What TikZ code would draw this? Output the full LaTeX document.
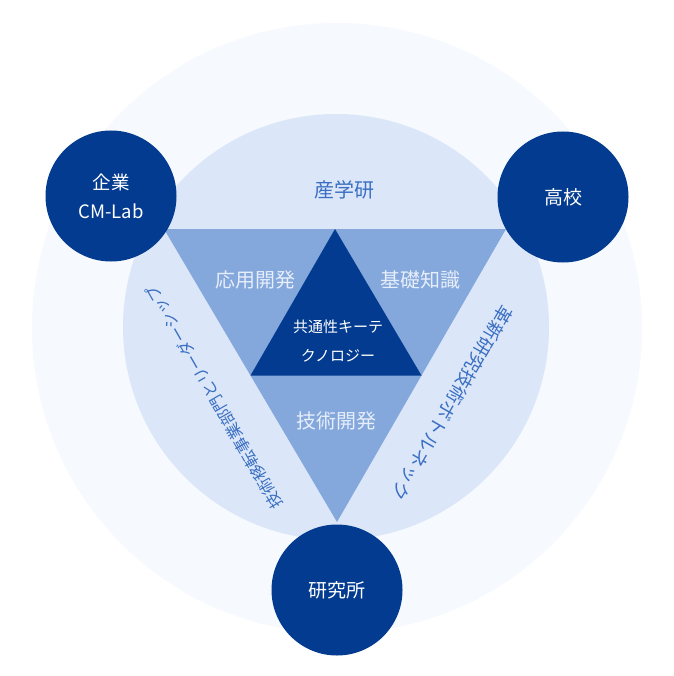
\documentclass[tikz,border=0pt]{standalone}
\usepackage{fontspec}
\setmainfont{Noto Sans CJK JP}
\usetikzlibrary{calc}
\definecolor{navy}{HTML}{023B8F}
\definecolor{midblue}{HTML}{84A7DC}
\definecolor{lightblue}{HTML}{DBE7F8}
\definecolor{paleblue}{HTML}{F6F9FE}
\definecolor{labelblue}{HTML}{3A6EC3}
\definecolor{softwhite}{HTML}{E6EEFA}
\tikzset{
  hub/.style={circle, fill=navy, text=white, minimum size=131pt, inner sep=0pt, align=center},
  ringlabel/.style={text=labelblue, inner sep=0pt},
  trilabel/.style={text=softwhite, inner sep=0pt, font=\fontsize{20}{24}\selectfont},
  corelabel/.style={text=white, inner sep=0pt, font=\fontsize{15}{18}\selectfont}
}
\begin{document}
\begin{tikzpicture}[x=1pt,y=-1pt]
\useasboundingbox (0,0) rectangle (673,676);
\fill[white] (0,0) rectangle (673,676);
\fill[paleblue] (337,328) circle[radius=305];
\fill[lightblue] (336,327) circle[radius=213];
\coordinate (tl) at (164,229);
\coordinate (tr) at (506,229);
\coordinate (bt) at (337,522);
\fill[midblue] (tl) -- (tr) -- (bt) -- cycle;
\coordinate (mt) at ($(tl)!0.5!(tr)$);
\coordinate (mr) at ($(tr)!0.5!(bt)$);
\coordinate (ml) at ($(bt)!0.5!(tl)$);
\fill[navy] (mt) -- (mr) -- (ml) -- cycle;
\node[hub, font=\fontsize{18.5}{29}\selectfont] (qiye) at (111,196) {企業\\CM-Lab};
\node[hub, font=\fontsize{19}{23}\selectfont] (gaoxiao) at (563,197) {高校};
\node[hub, font=\fontsize{19}{23}\selectfont] (yanjiu) at (337,590) {研究所};
\node[ringlabel, font=\fontsize{20}{24}\selectfont] (chanxue) at (344,190) {産学研};
\node[ringlabel, rotate=-120, font=\fontsize{18.5}{20}\selectfont] (rtext) at (452,403) {革新研究技術ボトルネック};
\node[ringlabel, rotate=120, font=\fontsize{16}{20}\selectfont] (ltext) at (214,397) {技術移転事業部門とリーダーシップ};
\node[trilabel] (yingyong) at (255,280) {応用開発};
\node[trilabel] (jichu) at (420,280) {基礎知識};
\node[trilabel] (jishu) at (336,421) {技術開発};
\node[corelabel] (core1) at (338,327) {共通性キーテ};
\node[corelabel] (core2) at (338,356) {クノロジー};
\end{tikzpicture}
\end{document}
